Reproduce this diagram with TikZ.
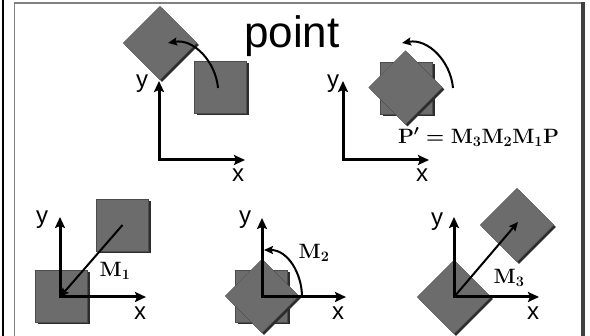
\documentclass[tikz,border=0pt]{standalone}
\usepackage[no-math]{fontspec}
\setsansfont{Liberation Sans}
\usetikzlibrary{arrows.meta}
\definecolor{abu}{RGB}{108,108,108}
\definecolor{bayang}{RGB}{45,45,45}
\definecolor{bingkai}{RGB}{128,128,128}
\tikzset{
  kotak/.style={rectangle, minimum size=52pt, inner sep=0pt, fill=abu,
    draw=abu!70!black, line width=0.3pt,
    preaction={fill=bayang, transform canvas={xshift=2pt, yshift=-2pt}}},
  wajik/.style={kotak, rotate=45},
  sumbu/.style={{Stealth[length=11pt, width=10pt, inset=2pt]}-{Stealth[length=11pt, width=10pt, inset=2pt]},
    line width=3pt},
  panah/.style={-{Stealth[length=9pt, width=8pt, inset=1.5pt]}, line width=2pt},
  huruf/.style={font=\sffamily\fontsize{24}{26}\selectfont, inner sep=0pt},
  rumus/.style={font=\fontsize{20}{24}\selectfont, inner sep=0pt}
}
\newcommand{\tebal}[1]{\mbox{\boldmath$#1$}}

\begin{document}
\begin{tikzpicture}[x=1pt, y=1pt]
  \useasboundingbox (0,0) rectangle (590,336);
  % bingkai slide
  \draw[line width=2pt] (3,0) -- (3,336);
  \draw[bingkai, line width=1.5pt] (14.5,0) -- (14.5,333) -- (582,333);
  \draw[black!75, line width=4pt] (583,0) -- (583,334);
  \node[font=\sffamily\fontsize{44}{48}\selectfont, anchor=base west, inner sep=0pt] (judul) at (244,288) {point};

  % panel 1
  \coordinate (o1) at (159,176);
  \coordinate (y1) at (159,255);
  \coordinate (x1) at (245,176);
  \node[kotak] (s1) at (220.5,249) {};
  \node[wajik] (d1) at (160,293) {};
  \draw[sumbu] (y1) -- (o1) -- (x1);
  \node[huruf] (ly1) at (142,252) {y};
  \node[huruf] (lx1) at (238,161) {x};
  \coordinate (a1) at (218,248);
  \coordinate (b1) at (168,293);
  \draw[panah] (a1) to[out=95, in=10] (b1);

  % panel 2
  \coordinate (o2) at (343,176);
  \coordinate (y2) at (343,255);
  \coordinate (x2) at (429,176);
  \node[kotak] (s2) at (406.5,247.5) {};
  \node[wajik] (d2) at (405.5,248.5) {};
  \draw[sumbu] (y2) -- (o2) -- (x2);
  \node[huruf] (ly2) at (333,252) {y};
  \node[huruf] (lx2) at (422,161) {x};
  \coordinate (a2) at (453,248);
  \coordinate (b2) at (402,293);
  \draw[panah] (a2) to[out=95, in=10] (b2);
  \node[rumus] (pers) at (478.5,199) {\tebal{\mathbf{P}^{\prime}=\mathbf{M_3M_2M_1P}}};

  % panel 3
  \coordinate (o3) at (60,39);
  \coordinate (y3) at (60,119);
  \coordinate (x3) at (146,39);
  \node[kotak] (s3a) at (61.5,39.5) {};
  \node[kotak] (s3b) at (122.5,111) {};
  \draw[sumbu] (y3) -- (o3) -- (x3);
  \node[huruf] (ly3) at (42,116) {y};
  \node[huruf] (lx3) at (140,23) {x};
  \draw[panah] (s3b.center) -- (o3);
  \node[rumus] (m1) at (115,65) {$\mathbf{M_1}$};

  % panel 4
  \coordinate (o4) at (262,39);
  \coordinate (y4) at (262,118);
  \coordinate (x4) at (346,39);
  \node[kotak] (s4) at (261.5,39.5) {};
  \node[wajik] (d4) at (262,40) {};
  \draw[sumbu] (y4) -- (o4) -- (x4);
  \node[huruf] (ly4) at (245,116) {y};
  \node[huruf] (lx4) at (338,23) {x};
  \coordinate (a4) at (302,39);
  \coordinate (b4) at (264,86);
  \draw[panah] (a4) to[out=90, in=0] (b4);
  \node[rumus] (m2) at (314,83) {$\mathbf{M_2}$};

  % panel 5
  \coordinate (o5) at (454,39);
  \coordinate (y5) at (454,119);
  \coordinate (x5) at (539,39);
  \coordinate (t5) at (518,114);
  \node[wajik] (d5a) at (454,39) {};
  \node[wajik] (d5b) at (517,111) {};
  \draw[sumbu] (y5) -- (o5) -- (x5);
  \node[huruf] (ly5) at (437,114) {y};
  \node[huruf] (lx5) at (533,23) {x};
  \draw[panah] (o5) -- (t5);
  \node[rumus] (m3) at (509,58) {$\mathbf{M_3}$};
\end{tikzpicture}
\end{document}
